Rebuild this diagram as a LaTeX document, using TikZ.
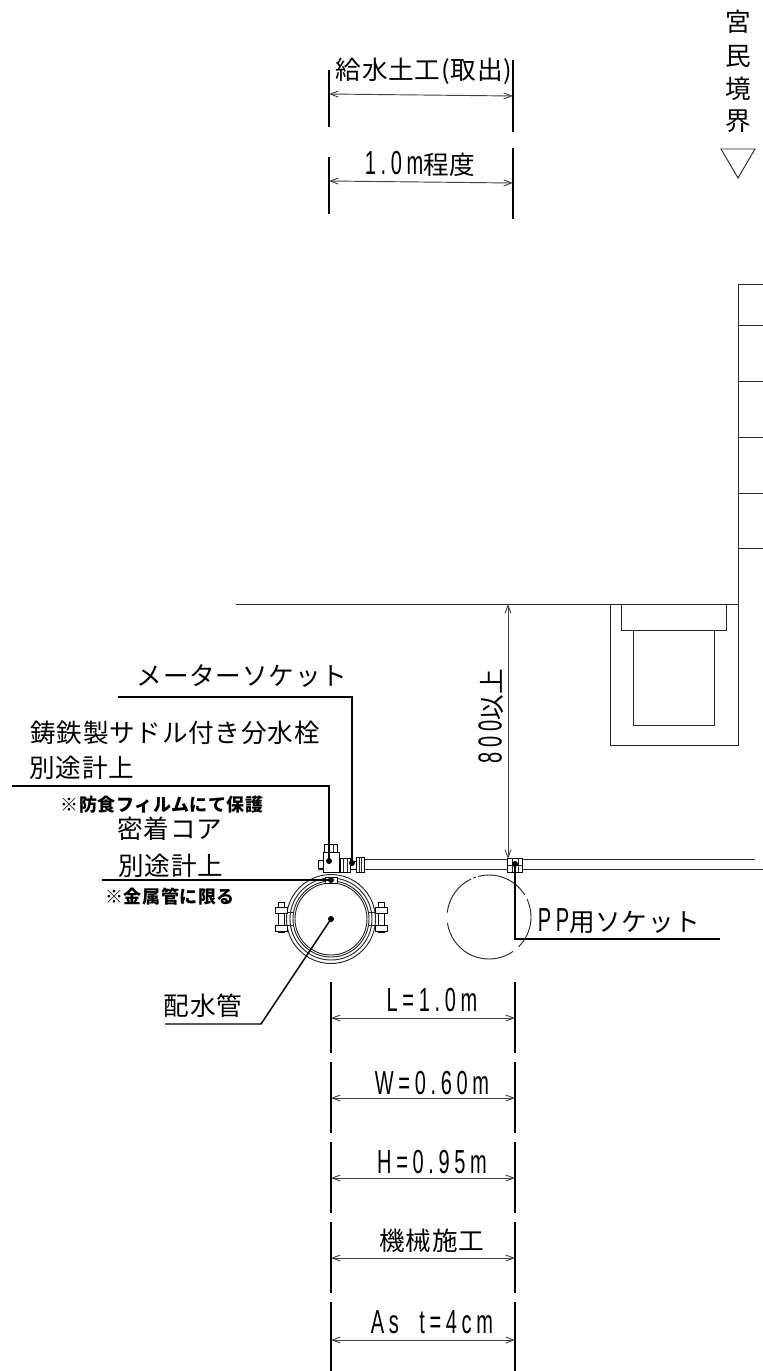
\documentclass[tikz,border=0pt]{standalone}
\usepackage{fontspec}
\setmainfont{Noto Sans CJK JP}[LetterSpace=3]
\newfontfamily\latfont{Liberation Sans}[FakeStretch=0.6,LetterSpace=14]
\newcommand{\lat}[1]{{\fontsize{25}{27}\latfont #1}}
\usetikzlibrary{positioning,arrows.meta}
\tikzset
{
    bigtext/.style   = {inner sep=0pt, font=\fontsize{19.2}{21}\selectfont},
    smalltext/.style = {inner sep=0pt, font=\fontsize{13.5}{15}\selectfont\bfseries},
    leader/.style    = {line width=1.1pt, black},
    dimline/.style   = {{Straight Barb[length=6pt,width=4.5pt]}-{Straight Barb[length=6pt,width=4.5pt]}, line width=0.7pt, black!75},
    extline/.style   = {line width=1.1pt, black},
    part/.style      = {line width=0.6pt, black, fill=white},
    thinline/.style  = {line width=0.7pt, black!85}
}
\begin{document}
\begin{tikzpicture}[x=0.75pt,y=-0.75pt]
\useasboundingbox (0,0) rectangle (763,1371);

% top dimensions
\draw[extline] (329,70) -- (329,127) (513,60) -- (513,132);
\draw[extline] (329,157) -- (329,214) (513,148) -- (513,219);
\coordinate (t1l) at (329,94);  \coordinate (t1r) at (513,96);
\coordinate (t2l) at (329,181); \coordinate (t2r) at (513,183);
\draw[dimline] (t1l) -- (t1r);
\draw[dimline] (t2l) -- (t2r);
\node (work)	[bigtext] at (424,71)	{給水土工(取出)};
\node (about)	[bigtext] at (420,164)	{\lat{1.0m}程度};

% boundary mark
\node (kan)	[bigtext] at (738,22)	{宮};
\node (min)	[bigtext] at (738,56)	{民};
\node (kyo)	[bigtext] at (738,89)	{境};
\node (kai)	[bigtext] at (738,121)	{界};
\draw[thinline] (721,149) -- (755,149) -- (738,178) -- cycle;

% house and ground
\draw[thinline] (763,284) -- (738,284) -- (738,605);
\foreach \y in {325,381,437,493,548}
	\draw[thinline] (738,\y) -- (763,\y);
\draw[thinline] (236,604) -- (738,604);
\draw[thinline] (610,604) -- (610,745) -- (738,745) -- (738,604);
\draw[thinline] (621,604) -- (621,630) -- (726,630) -- (726,604);
\draw[thinline] (633,630) -- (633,725) -- (714,725) -- (714,630);

% service pipe
\draw[thinline] (364,859) -- (755,859);
\draw[thinline] (364,869) -- (763,869);

% depth
\coordinate (d1) at (508,604); \coordinate (d2) at (508,859);
\draw[dimline] (d1) -- (d2);
\node (depth)	[bigtext,rotate=90] at (491,716) {\lat{800}以上};

% distribution main
\coordinate (main) at (331,919);
\foreach \r in {44.5,41,38,36}
	\draw[thinline] (main) circle (\r);
\foreach \dx/\s in {-50/-1,50/1} {
	\draw[thinline] ([shift={(\s*37,-7)}]main) -- ([shift={(\dx,-7)}]main);
	\draw[thinline] ([shift={(\s*37,6)}]main) -- ([shift={(\dx,6)}]main);
	\draw[part] ([shift={(\dx-3,-17)}]main) rectangle ([shift={(\dx+3,13)}]main);
	\draw[part] ([shift={(\dx-6,-12)}]main) rectangle ([shift={(\dx+6,-6)}]main);
	\draw[part] ([shift={(\dx-6,6)}]main) rectangle ([shift={(\dx+6,12)}]main);
}
\draw[part] (325,877) rectangle (337,883);
\draw[thinline] (318,870) .. controls (324,869) and (338,869) .. (344,870);

% saddle
\draw[part] (323,852) rectangle (339,872);
\draw[part] (324,844) rectangle (337,852);
\draw[thinline] (328,844) -- (328,852) (333,844) -- (333,852);
\draw[part] (318,860) rectangle (323,868);
\draw[part] (340,858) rectangle (350,872);
\draw[thinline] (343,858) -- (343,872) (347,858) -- (347,872);
\draw[part] (350,861) rectangle (356,869);
\draw[part] (356,857) rectangle (364,872);
\draw[thinline] (359,857) -- (359,872) (361,857) -- (361,872);
\draw[part] (507,858) rectangle (522,872);
\draw[thinline] (512,858) -- (512,872) (518,858) -- (518,872) (507,865) -- (522,865);
\foreach \a/\b in {-105/-32,-25/45,55/172,186/245,252/-112}
	\draw[thinline] (489,917) ++(\a:42) arc[start angle=\a, end angle=\b+360*(\b<\a), radius=42];

% leaders
\coordinate (msdot) at (352,863);
\coordinate (sadot) at (329,861);
\coordinate (cadot) at (331,880);
\coordinate (ppdot) at (515,864);
\fill (msdot) circle (3) (sadot) circle (3) (cadot) circle (3) (ppdot) circle (3) (main) circle (3);
\draw[leader] (118,697) -- (352,697) -- (msdot);
\draw[leader] (12,786) -- (329,786) -- (sadot);
\draw[leader] (102,880) -- (cadot);
\draw[leader] (ppdot) -- (515,939) -- (720,939);
\draw[leader] (main) -- (261,1024) -- (165,1024);

% labels
\node (msock)	[bigtext] at (242,676)	{メーターソケット};
\node (saddle)	[bigtext] at (175,733)	{鋳鉄製サドル付き分水栓};
\node (extra1)	[bigtext] at (82,768)	{別途計上};
\node (film)	[smalltext] at (162,805)	{※防食フィルムにて保護};
\node (core)	[bigtext] at (170,829)	{密着コア};
\node (extra2)	[bigtext] at (171,866)	{別途計上};
\node (metal)	[smalltext] at (170,897)	{※金属管に限る};
\node (ppsock)	[bigtext] at (619,921)	{\lat{PP}用ソケット};
\node (pipe)	[bigtext] at (203,1006)	{配水管};

% lower dimensions
\foreach \n/\ya/\yb/\ym/\yt/\lbl in {
	len/982/1053/1018/1000/{\lat{L=1.0m}},
	wid/1062/1133/1098/1083/{\lat{W=0.60m}},
	hgt/1142/1213/1178/1162/{\lat{H=0.95m}},
	mac/1222/1293/1258/1241/{機械施工},
	asp/1302/1371/1340/1322/{\lat{As\ \ t=4cm}}} {
	\draw[extline] (331,\ya) -- (331,\yb) (515,\ya) -- (515,\yb);
	\coordinate (\n l) at (331,\ym);
	\coordinate (\n r) at (515,\ym);
	\draw[dimline] (\n l) -- (\n r);
	\node (\n)	[bigtext] at (432,\yt)	{\lbl};
}
\end{tikzpicture}
\end{document}
